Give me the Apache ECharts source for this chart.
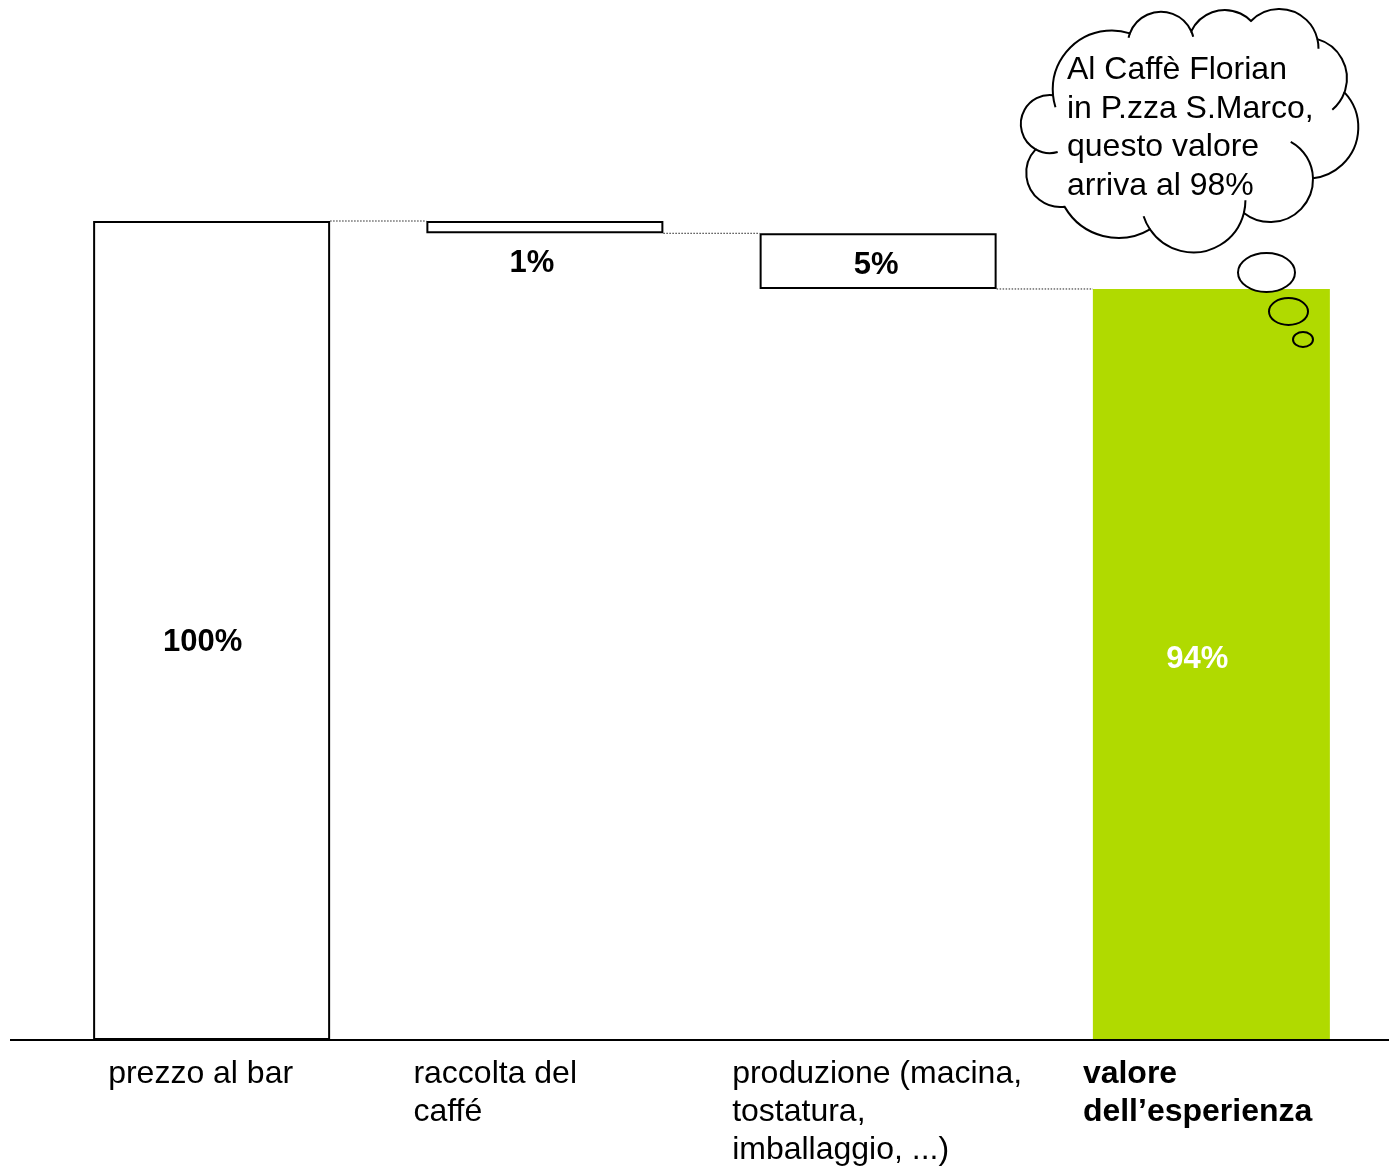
<!DOCTYPE html>
<html lang="it">
<head>
    <meta charset="UTF-8">
    <title>valore dell'esperienza</title>
    <script src="https://cdn.jsdelivr.net/npm/echarts@6/dist/echarts.min.js"></script>
    <style>
        html, body { margin: 0; padding: 0; background: #fff; }
        #chartmain { width: 1389px; height: 1166px; }
    </style>
</head>
<body>
<div id="chartmain"></div>
<script>
    // dati
    var categories = ['prezzo al bar', 'raccolta del\ncaffé', 'produzione (macina,\ntostatura,\nimballaggio, ...)', 'valore\ndell\u2019esperienza'];
    var values = [100, 1.5, 6.8, 91.7];
    var valueLabels = ['100%', '1%', '5%', '94%'];
    var kinds = ['total', 'step', 'step', 'total'];
    var cloudText = 'Al Caffè Florian\nin P.zza S.Marco,\nquesto valore\narriva al 98%';

    var FONT = "'Liberation Sans', Arial, sans-serif";
    var GREEN = '#b0da00';
    var barW = 237;

    // basi invisibili del waterfall
    var bases = [], levels = [], level = 0;
    for (var i = 0; i < values.length; i++) {
        if (kinds[i] == 'total') {
            bases.push(0);
            level = values[i];
        } else {
            level = level - values[i];
            bases.push(level);
        }
        levels.push(level);
    }
    var connectors = [];
    for (var i = 0; i < values.length - 1; i++) {
        connectors.push([i, levels[i]]);
    }

    var labelCfg = [
        {position: 'inside', offset: [-9, 12], color: '#000'},
        {position: 'bottom', distance: 15, offset: [-13, 0], color: '#000'},
        {position: 'inside', offset: [-2, 4], color: '#000'},
        {position: 'inside', offset: [-14, -5], color: '#fff'}
    ];

    var shownData = values.map(function (v, i) {
        var last = i == values.length - 1;
        return {
            value: v,
            itemStyle: last ? {color: GREEN, borderWidth: 0} : {color: '#fff', borderColor: '#000', borderWidth: 2},
            label: {
                show: true,
                position: labelCfg[i].position,
                distance: labelCfg[i].distance,
                offset: labelCfg[i].offset,
                color: labelCfg[i].color,
                fontFamily: FONT,
                fontWeight: 'bold',
                fontSize: 31,
                formatter: valueLabels[i]
            }
        };
    });

    function ellipsePath(cx, cy, rx, ry) {
        return 'M' + (cx - rx) + ' ' + cy +
            ' A' + rx + ' ' + ry + ' 0 1 0 ' + (cx + rx) + ' ' + cy +
            ' A' + rx + ' ' + ry + ' 0 1 0 ' + (cx - rx) + ' ' + cy + ' Z';
    }

    // cerchio per tre punti
    function circ3(a, b, c) {
        var d = 2 * (a[0] * (b[1] - c[1]) + b[0] * (c[1] - a[1]) + c[0] * (a[1] - b[1]));
        var A = a[0] * a[0] + a[1] * a[1], B = b[0] * b[0] + b[1] * b[1], C = c[0] * c[0] + c[1] * c[1];
        var ux = (A * (b[1] - c[1]) + B * (c[1] - a[1]) + C * (a[1] - b[1])) / d;
        var uy = (A * (c[0] - b[0]) + B * (a[0] - c[0]) + C * (b[0] - a[0])) / d;
        return {x: ux, y: uy, r: Math.hypot(a[0] - ux, a[1] - uy)};
    }

    function meet(c1, c2, ctr) {
        var dx = c2.x - c1.x, dy = c2.y - c1.y, d = Math.hypot(dx, dy);
        if (d > c1.r + c2.r || d < Math.abs(c1.r - c2.r)) {
            return [c1.x + dx / d * c1.r, c1.y + dy / d * c1.r];
        }
        var a = (c1.r * c1.r - c2.r * c2.r + d * d) / (2 * d);
        var h = Math.sqrt(Math.max(0, c1.r * c1.r - a * a));
        var mx = c1.x + a * dx / d, my = c1.y + a * dy / d;
        var p = [mx - h * dy / d, my + h * dx / d];
        var q = [mx + h * dy / d, my - h * dx / d];
        return Math.hypot(p[0] - ctr[0], p[1] - ctr[1]) > Math.hypot(q[0] - ctr[0], q[1] - ctr[1]) ? p : q;
    }

    // nuvoletta (annotazione): lobi come archi di cerchio
    function renderCloud() {
        var lobes = [
            [[1053, 95], [1068, 50], [1125, 32]],
            [[1130, 33], [1165, 12], [1192, 33]],
            [[1195, 25], [1225, 10], [1252, 22]],
            [[1250, 22], [1282, 9], [1318, 42]],
            [[1320, 40], [1346, 70], [1332, 110]],
            [[1345, 93], [1358, 133], [1320, 177]],
            [[1287, 140], [1313, 180], [1268, 222]],
            [[1245, 207], [1200, 252], [1145, 220]],
            [[1068, 212], [1108, 237], [1140, 234]],
            [[1035, 150], [1027, 180], [1060, 207]],
            [[1050, 95], [1021, 127], [1052, 153]]
        ];
        // prolungamenti interni (gradi) all'inizio / alla fine di ogni lobo
        var hookS = [12, 8, 0, 0, 0, 0, 60, 14, 0, 0, 45];
        var hookE = [0, 10, 0, 14, 30, 0, 0, 16, 0, 0, 0];
        var ctr = [1188, 132];
        var cs = lobes.map(function (l) { return circ3(l[0], l[1], l[2]); });
        var n = cs.length, X = [];
        for (var k = 0; k < n; k++) X.push(meet(cs[k], cs[(k + 1) % n], ctr));
        var d = 'M' + X[n - 1][0] + ' ' + X[n - 1][1];
        var kids = [], hooks = [];
        for (var k = 0; k < n; k++) {
            var c = cs[k], s = X[(k + n - 1) % n], e = X[k];
            var as = Math.atan2(s[1] - c.y, s[0] - c.x), ae = Math.atan2(e[1] - c.y, e[0] - c.x);
            var delta = ae - as;
            while (delta < 0) delta += 2 * Math.PI;
            d += ' A' + c.r + ' ' + c.r + ' 0 ' + (delta > Math.PI ? 1 : 0) + ' 1 ' + e[0] + ' ' + e[1];
            if (hookS[k]) {
                var a0 = as - hookS[k] * Math.PI / 180;
                hooks.push('M' + (c.x + c.r * Math.cos(a0)) + ' ' + (c.y + c.r * Math.sin(a0)) +
                    ' A' + c.r + ' ' + c.r + ' 0 0 1 ' + s[0] + ' ' + s[1]);
            }
            if (hookE[k]) {
                var a1 = ae + hookE[k] * Math.PI / 180;
                hooks.push('M' + e[0] + ' ' + e[1] +
                    ' A' + c.r + ' ' + c.r + ' 0 0 1 ' + (c.x + c.r * Math.cos(a1)) + ' ' + (c.y + c.r * Math.sin(a1)));
            }
        }
        d += ' Z';
        kids.push({type: 'path', shape: {pathData: d}, style: {fill: '#fff', stroke: '#000', lineWidth: 2}});
        for (var i = 0; i < hooks.length; i++) {
            kids.push({type: 'path', shape: {pathData: hooks[i]}, style: {fill: null, stroke: '#000', lineWidth: 2}});
        }
        kids.push({
            type: 'text',
            style: {
                text: cloudText, x: 1067, y: 51,
                fill: '#000', font: '32px ' + FONT, lineHeight: 38.5,
                textAlign: 'left', textVerticalAlign: 'top'
            }
        });
        kids.push({type: 'path', shape: {pathData: ellipsePath(1266.5, 272.5, 28.5, 19.5)}, style: {fill: '#fff', stroke: '#000', lineWidth: 2}});
        kids.push({type: 'path', shape: {pathData: ellipsePath(1288.5, 311.5, 19.5, 13.5)}, style: {fill: null, stroke: '#000', lineWidth: 2}});
        kids.push({type: 'path', shape: {pathData: ellipsePath(1303, 339.5, 10, 7.5)}, style: {fill: null, stroke: '#000', lineWidth: 2}});
        return {type: 'group', children: kids};
    }

    var myChart = echarts.init(document.getElementById('chartmain'));

    var option = {
        animation: false,
        grid: {left: 45, right: 11, top: 221, bottom: 126},
        xAxis: {
            type: 'category',
            data: categories,
            axisLine: {show: false},
            axisTick: {show: false},
            axisLabel: {show: false}
        },
        yAxis: {
            type: 'value',
            min: 0,
            max: 100,
            show: false
        },
        series: [
            {
                name: 'base',
                type: 'bar',
                stack: 'w',
                barWidth: barW,
                silent: true,
                itemStyle: {color: 'transparent'},
                data: bases
            },
            {
                name: 'valore',
                type: 'bar',
                stack: 'w',
                barWidth: barW,
                data: shownData
            },
            {
                name: 'connettori',
                type: 'custom',
                silent: true,
                z: 1,
                data: connectors,
                renderItem: function (params, api) {
                    var a = api.coord([api.value(0), api.value(1)]);
                    var b = api.coord([api.value(0) + 1, api.value(1)]);
                    return {
                        type: 'line',
                        shape: {x1: a[0] + barW / 2, y1: a[1], x2: b[0] - barW / 2, y2: b[1]},
                        style: {stroke: '#222', lineWidth: 1, lineDash: [1.5, 1.5]}
                    };
                }
            },
            {
                name: 'nuvola',
                type: 'custom',
                coordinateSystem: 'none',
                silent: true,
                z: 10,
                data: [0],
                renderItem: renderCloud
            }
        ]
    };
    myChart.setOption(option);

    // asse e etichette delle categorie
    var labelShift = [-103.5, -131.5, -146, -128.5];
    var graphics = [];
    graphics.push({
        type: 'line', z: 10,
        shape: {x1: 10, y1: 1040, x2: 1389, y2: 1040},
        style: {stroke: '#000', lineWidth: 2}
    });
    for (var i = 0; i < categories.length; i++) {
        var px = myChart.convertToPixel({xAxisIndex: 0}, categories[i]);
        graphics.push({
            type: 'text',
            x: px + labelShift[i],
            y: 1055,
            style: {
                text: categories[i],
                fill: '#000',
                font: (i == categories.length - 1 ? 'bold ' : '') + '32px ' + FONT,
                lineHeight: 38,
                textAlign: 'left',
                textVerticalAlign: 'top'
            }
        });
    }
    myChart.setOption({graphic: graphics});
</script>
</body>
</html>
